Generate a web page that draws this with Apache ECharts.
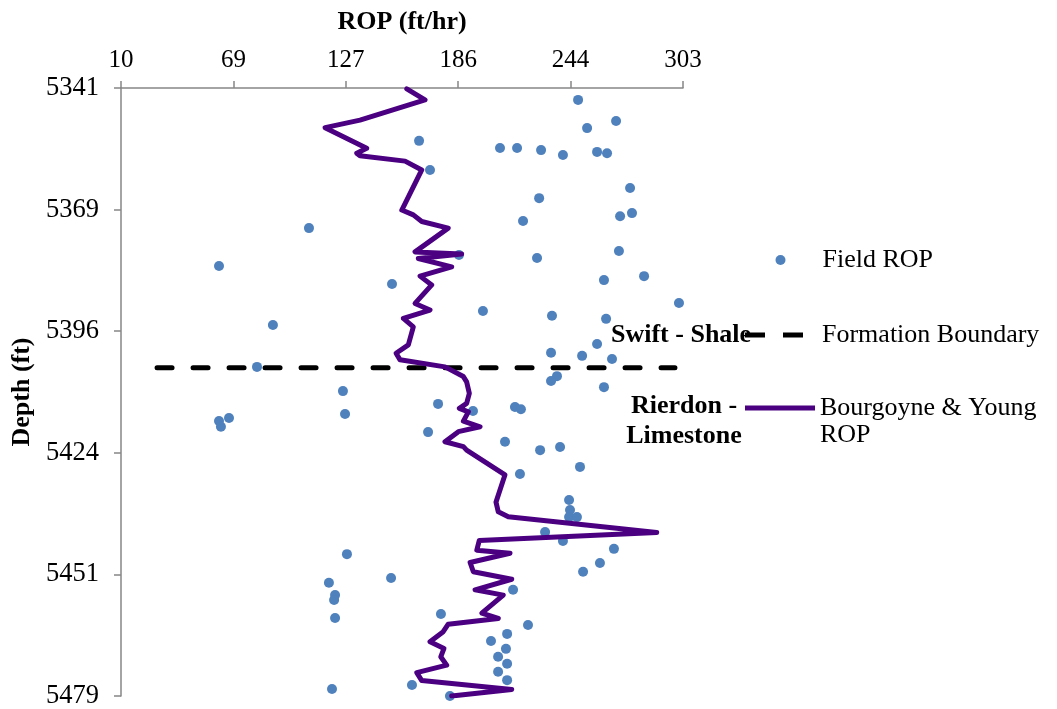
<!DOCTYPE html>
<html>
<head>
<meta charset="utf-8">
<script src="https://cdn.jsdelivr.net/npm/echarts@6/dist/echarts.min.js"></script>
<style>
html,body{margin:0;padding:0;background:#fff;}
#c{width:1057px;height:709px;}
</style>
</head>
<body>
<div id="c"></div>
<script>
// ---- tick values ----
const xTicks = [10, 68.6, 127.2, 185.8, 244.4, 303];
const yTicks = [5341, 5368.6, 5396.2, 5423.8, 5451.4, 5479];

// ---- Field ROP (scatter) ----
const fieldROP = [248.3,268.1,253.0,165.4,207.6,216.5,229.0,240.4,258.2,263.4,
  171.1,275.4,228.0,270.2,276.4,219.6,108.0,186.2,226.9,269.6,
  61.1,261.8,282.7,151.3,300.9,198.7,234.7,262.9,89.2,258.2,
  234.2,250.4,266.0,80.9,237.3,234.2,261.8,125.7,175.3,215.4,
  218.5,193.5,126.8,66.3,61.1,62.1,170.1,210.2,238.9,228.5,
  249.3,218.0,243.6,244.1,243.6,247.7,231.1,240.4,267.0,127.8,
  259.7,250.9,150.8,118.4,214.4,121.6,121.1,176.8,121.6,222.2,
  211.3,202.9,210.7,206.6,211.3,206.6,211.3,161.7,120.0,181.5];
const fieldDepth = [5343.7,5348.5,5350.1,5353.0,5354.6,5354.6,5355.1,5356.2,5355.5,5355.8,
  5359.6,5363.7,5366.0,5370.1,5369.4,5371.2,5372.8,5378.9,5379.6,5378.0,
  5381.4,5384.6,5383.7,5385.5,5389.8,5391.6,5392.7,5393.4,5394.8,5399.1,
  5401.1,5401.8,5402.5,5404.3,5406.4,5407.5,5408.9,5409.8,5412.7,5413.4,
  5413.9,5414.3,5415.0,5415.9,5416.6,5417.9,5419.1,5421.3,5422.5,5423.2,
  5427.0,5428.6,5434.5,5436.8,5438.4,5438.4,5441.8,5443.8,5445.6,5446.8,
  5448.8,5450.8,5452.2,5453.3,5454.9,5456.1,5457.2,5460.4,5461.3,5462.9,
  5464.9,5466.5,5468.3,5470.1,5471.7,5473.5,5475.4,5476.5,5477.4,5479.0];

// ---- Bourgoyne & Young ROP (line) ----
const byROP = [159.0,168.5,134.6,116.4,138.1,132.9,134.6,158.1,166.8,156.4,
  162.4,166.8,180.6,163.3,187.6,165.0,182.4,165.9,172.0,163.3,
  171.1,157.2,162.4,159.8,153.4,155.5,178.9,188.5,190.2,191.6,
  190.2,186.4,191.1,188.5,197.2,185.9,178.9,188.5,190.2,210.2,
  205.5,206.7,211.9,289.3,196.8,195.5,212.8,192.0,193.7,213.7,
  194.6,209.3,198.1,206.7,180.6,178.0,171.1,178.4,176.7,179.8,
  164.2,166.8,213.7,182.4];
const byDepth = [5341.2,5343.7,5348.3,5350.0,5354.7,5355.8,5356.4,5357.6,5359.6,5368.7,
  5369.8,5371.3,5372.8,5378.2,5378.7,5379.7,5381.6,5383.7,5385.7,5389.9,
  5391.4,5393.3,5395.2,5399.3,5401.2,5402.7,5404.3,5406.5,5407.7,5410.3,
  5412.6,5413.7,5414.5,5416.6,5417.9,5419.0,5421.3,5422.4,5423.2,5428.8,
  5435.0,5437.2,5438.3,5441.9,5443.7,5445.9,5446.6,5448.7,5450.8,5452.5,
  5454.9,5456.1,5460.2,5461.4,5462.7,5464.4,5466.7,5468.2,5470.1,5472.0,
  5473.7,5475.5,5477.5,5479.0];

// ---- Formation boundary ----
const boundaryROP = [28.8, 298.8];
const boundaryDepth = 5404.5;

const names = ['Field ROP', 'Formation Boundary', 'Bourgoyne & Young ROP'];

const FONT = '"Liberation Serif", "Times New Roman", serif';
const zip = (a, b) => a.map((v, i) => [v, b[i]]);

const chart = echarts.init(document.getElementById('c'), null, {renderer: 'canvas'});
const legendText = {
  fontFamily: FONT, fontSize: 26, color: '#000', lineHeight: 27,
  rich: {s32: {width: 32, height: 27}, s14: {width: 14, height: 27},
         t: {fontFamily: FONT, fontSize: 26, color: '#000', lineHeight: 27}}
};
const legendBase = {orient: 'vertical', padding: 0, itemGap: 0, selectedMode: false, textStyle: legendText};
chart.setOption({
  animation: false,
  backgroundColor: '#fff',
  textStyle: {fontFamily: FONT},
  grid: {left: 121, right: 374, top: 88, bottom: 13, containLabel: false, outerBoundsMode: 'none'},
  xAxis: {
    type: 'value', position: 'top', min: 10, max: 303,
    name: 'ROP (ft/hr)', nameLocation: 'middle', nameGap: 53,
    nameTextStyle: {fontFamily: FONT, fontSize: 26, fontWeight: 'bold', color: '#000'},
    axisLine: {show: true, lineStyle: {color: '#868686', width: 1.5}},
    axisTick: {show: true, length: 7, customValues: xTicks, lineStyle: {color: '#868686', width: 1.5}},
    axisLabel: {customValues: xTicks, formatter: v => String(Math.round(v)), fontFamily: FONT, fontSize: 25, color: '#000', margin: 15},
    splitLine: {show: false}
  },
  yAxis: {
    type: 'value', inverse: true, min: 5341, max: 5479,
    name: 'Depth (ft)', nameLocation: 'middle', nameGap: 84, nameRotate: 90,
    nameTextStyle: {fontFamily: FONT, fontSize: 26, fontWeight: 'bold', color: '#000'},
    axisLine: {show: true, lineStyle: {color: '#868686', width: 1.5}},
    axisTick: {show: true, length: 7, customValues: yTicks, lineStyle: {color: '#868686', width: 1.5}},
    axisLabel: {customValues: yTicks, formatter: v => String(Math.round(v)), fontFamily: FONT, fontSize: 26.5, color: '#000', margin: 22},
    splitLine: {show: false}
  },
  legend: [
    Object.assign({}, legendBase, {
      data: [{name: names[0], icon: 'circle'}], left: 775.5, top: 246.5,
      itemWidth: 10, itemHeight: 10,
      formatter: n => '{s32|}{t|' + n + '}'
    }),
    Object.assign({}, legendBase, {
      data: [{name: names[1], icon: 'path://M0,0h20v5h-20z M38,0h20v5h-20z'}], left: 745, top: 321.5,
      itemWidth: 58, itemHeight: 5,
      formatter: n => '{s14|}{t|' + n + '}'
    }),
    Object.assign({}, legendBase, {
      data: [{name: names[2], icon: 'path://M0,0h70v5h-70z'}], left: 745, top: 367.5,
      itemWidth: 70, itemHeight: 5,
      formatter: () => '\nBourgoyne & Young\nROP'
    })
  ],
  graphic: [
    {type: 'text', z: 0, style: {text: 'Swift - Shale', x: 611, y: 335, font: 'bold 26px ' + FONT, fill: '#000', align: 'left', verticalAlign: 'middle', textAlign: 'left', textVerticalAlign: 'middle'}},
    {type: 'text', z: 0, style: {text: 'Rierdon -\nLimestone', x: 684, y: 421, font: 'bold 26px ' + FONT, fill: '#000', lineHeight: 30, align: 'center', verticalAlign: 'middle', textAlign: 'center', textVerticalAlign: 'middle'}}
  ],
  series: [
    {
      name: names[1], type: 'line', symbol: 'none', z: 2,
      data: boundaryROP.map(r => [r, boundaryDepth]),
      lineStyle: {color: '#000', width: 5, type: [15, 21], cap: 'round'},
      itemStyle: {color: '#000'}
    },
    {
      name: names[0], type: 'scatter', symbol: 'circle', symbolSize: 10, z: 3,
      data: zip(fieldROP, fieldDepth),
      itemStyle: {color: '#4F81BD', opacity: 1}
    },
    {
      name: names[2], type: 'line', symbol: 'none', z: 4,
      data: zip(byROP, byDepth),
      lineStyle: {color: '#4B0082', width: 5, join: 'round', cap: 'round'},
      itemStyle: {color: '#4B0082'}
    }
  ]
});
</script>
</body>
</html>
